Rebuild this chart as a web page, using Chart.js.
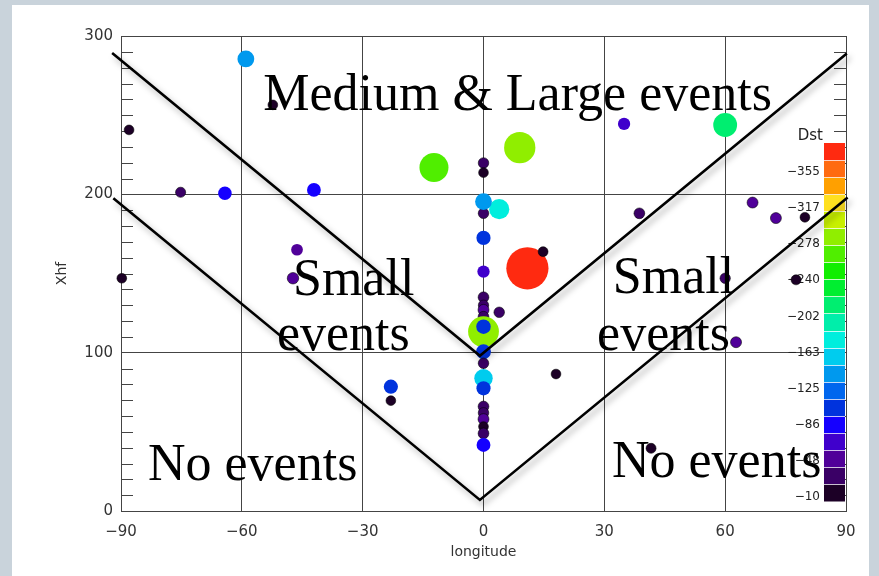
<!DOCTYPE html>
<html lang="en">
<head>
<meta charset="utf-8">
<title>Xhf vs longitude</title>
<script src="https://cdn.jsdelivr.net/npm/chart.js@4.4.1/dist/chart.umd.min.js"></script>
<style>
  html, body { margin:0; padding:0; background:#c9d3db; }
  #panel { position:absolute; left:12px; top:5px; width:857px; height:571px; background:#fff; }
  #wrap { position:absolute; left:0; top:0; width:879px; height:576px; }
</style>
</head>
<body>
<div id="panel"></div>
<div id="wrap"><canvas id="graph" width="879" height="576"></canvas></div>
<script>
// events: longitude, Xhf, Dst
var lon_ = [-59, -88, -52.3, -75.2, -64.2, -42.1, -46.3, -47.3, -89.8, -23, -23,
            -12.3, 9, 60, 34.9, 3.9, 10.9, 14.8, 38.7, 66.8, 72.6, 79.8, 60, 77.6, 62.7, 18, 3.9, 41.6,
            0, 0, 0, 0, 0, 0, 0, 0, 0, 0, 0, 0, 0, 0, 0, 0, 0, 0, 0, 0, 0, 0];
var xhf_ = [285.5, 240.7, 256.5, 201.3, 200.7, 202.8, 165, 147, 147, 78.5, 69.7,
            216.9, 229.5, 243.8, 244.5, 190.6, 153.3, 163.8, 188, 194.8, 185, 185.5, 147, 146, 106.6, 86.5, 125.5, 39.6,
            219.8, 213.7, 188, 195.4, 172.5, 151.2, 135, 130, 127, 122.7, 113.3, 116.4, 100.6, 93.3, 83.8, 77.5, 66, 62, 58, 53.3, 49, 41.7];
var dst_ = [-135, -12, -10, -25, -90, -95, -60, -55, -10, -100, -10,
            -262, -282, -213, -70, -175, -375, -15, -40, -45, -45, -12, -30, -20, -45, -10, -35, -20,
            -35, -10, -35, -135, -100, -70, -40, -30, -45, -40, -278, -105, -110, -35, -155, -100, -40, -35, -45, -12, -40, -95];

// region boundaries
var upperLon = [-92.2, -0.9, 90.2];
var upperXhf = [289.3, 98, 289];
var lowerLon = [-91.9, -0.9, 90.4];
var lowerXhf = [197.5, 7, 198];

var xTicks = [-90, -60, -30, 0, 30, 60, 90];
var yTicks = [0, 100, 200, 300];
var dstLabels = ["\u2212355", "\u2212317", "\u2212278", "\u2212240", "\u2212202", "\u2212163", "\u2212125", "\u221286", "\u221248", "\u221210"];

// colour table, bottom (weak) to top (strong)
var dstColors = ['#1c0026','#3a0066','#500099','#4000cc','#1500ff','#0033dd','#0066ee','#0099ee','#00ccee','#00eedd',
                 '#00eeaa','#00ee70','#00ee30','#10ee00','#50ee00','#90ee00','#c8f000','#ffe020','#ffa000','#ff6a10','#ff2a10'];
var dstTop = -386, dstBottom = -6;

function colorFor(d) {
  var i = Math.floor((d - dstBottom) / (dstTop - dstBottom) * dstColors.length);
  i = Math.max(0, Math.min(dstColors.length - 1, i));
  return dstColors[i];
}
function radiusFor(d) {
  return 4.8 + 16.3 * Math.pow(Math.min(1, Math.abs(d) / 370), 1.5);
}

var notes = [
  {text: "Medium & Large events", x: -54.7, y: 253.3},
  {text: "Small", x: -47.3, y: 136.4},
  {text: "events", x: -51.3, y: 101.7},
  {text: "No events", x: -83.3, y: 19.6},
  {text: "Small", x: 32.1, y: 137.7},
  {text: "events", x: 28.2, y: 101.7},
  {text: "No events", x: 31.9, y: 21.5}
];

var points = lon_.map(function(v, i){ return {x: v, y: xhf_[i]}; });
function linePts(xs, ys){ return xs.map(function(v, i){ return {x: v, y: ys[i]}; }); }

var frame = {
  id: 'frame',
  beforeDatasetsDraw: function(chart) {
    var ctx = chart.ctx, a = chart.chartArea, ys = chart.scales.y;
    ctx.save();
    // minor ticks
    ctx.strokeStyle = '#444';
    ctx.lineWidth = 1;
    for (var v = 10; v < 300; v += 10) {
      if (v % 100 === 0) continue;
      var py = Math.round(ys.getPixelForValue(v)) + 0.5;
      ctx.beginPath();
      ctx.moveTo(a.left, py); ctx.lineTo(a.left + 12, py);
      ctx.moveTo(a.right - 12, py); ctx.lineTo(a.right, py);
      ctx.stroke();
    }
    // Dst colour bar
    var barR = a.right - 1, barL = barR - 21, barT = a.top + 107, barB = a.top + 465;
    var h = (barB - barT) / dstColors.length;
    for (var i = 0; i < dstColors.length; i++) {
      ctx.fillStyle = dstColors[i];
      ctx.fillRect(barL, barB - (i + 1) * h, barR - barL, h + 0.5);
    }
    ctx.strokeStyle = 'rgba(255,255,255,0.75)';
    for (i = 1; i < dstColors.length; i++) {
      var yy = Math.round(barB - i * h) + 0.5;
      ctx.beginPath(); ctx.moveTo(barL, yy); ctx.lineTo(barR, yy); ctx.stroke();
    }
    ctx.fillStyle = '#222';
    ctx.font = '12px "DejaVu Sans"';
    ctx.textAlign = 'right';
    ctx.textBaseline = 'middle';
    var lt = a.top + 136, lb = a.top + 461;
    dstLabels.forEach(function(t, k){
      ctx.fillText(t, barL - 4, lt + k * (lb - lt) / (dstLabels.length - 1));
    });
    ctx.font = '15px "DejaVu Sans"';
    ctx.fillText('Dst', barL - 1, a.top + 100);
    ctx.restore();
  },
  beforeDatasetDraw: function(chart, args) {
    if (args.meta.type === 'line') {
      var ctx = chart.ctx;
      ctx.save();
      ctx.shadowColor = 'rgba(0,0,0,0.35)';
      ctx.shadowBlur = 6;
      ctx.shadowOffsetX = 3;
      ctx.shadowOffsetY = 4;
    }
  },
  afterDatasetDraw: function(chart, args) {
    if (args.meta.type === 'line') chart.ctx.restore();
  },
  afterDatasetsDraw: function(chart) {
    var ctx = chart.ctx, xs = chart.scales.x, ys = chart.scales.y;
    ctx.save();
    ctx.fillStyle = '#000';
    ctx.font = '52px "Liberation Serif"';
    ctx.textAlign = 'left';
    ctx.textBaseline = 'alphabetic';
    notes.forEach(function(n){
      ctx.fillText(n.text, xs.getPixelForValue(n.x), ys.getPixelForValue(n.y));
    });
    ctx.restore();
  }
};

var tickFont = {family: 'DejaVu Sans', size: 15};

new Chart(document.getElementById('graph').getContext('2d'), {
  type: 'scatter',
  data: {
    datasets: [
      {type: 'line', data: linePts(upperLon, upperXhf), borderColor: '#000', borderWidth: 2.6,
       pointRadius: 0, fill: false, clip: false, tension: 0},
      {type: 'line', data: linePts(lowerLon, lowerXhf), borderColor: '#000', borderWidth: 2.6,
       pointRadius: 0, fill: false, clip: false, tension: 0},
      {label: 'Dst', data: points,
       backgroundColor: function(c){ return colorFor(dst_[c.dataIndex]); },
       borderColor: function(c){ return Math.abs(dst_[c.dataIndex]) < 60 ? 'rgba(0,0,0,0.55)' : 'rgba(0,0,0,0)'; },
       borderWidth: 1,
       pointRadius: function(c){ return radiusFor(dst_[c.dataIndex]); },
       clip: false}
    ]
  },
  options: {
    responsive: false,
    animation: false,
    layout: {padding: {left: 0, right: 33, top: 36, bottom: 0}},
    plugins: {legend: {display: false}, tooltip: {enabled: false}},
    scales: {
      x: {
        type: 'linear', min: -90, max: 90,
        afterBuildTicks: function(s){ s.ticks = xTicks.map(function(v){ return {value: v}; }); },
        afterFit: function(s){ s.height = 65; },
        grid: {color: '#444', lineWidth: 1, drawTicks: false},
        border: {color: '#444'},
        ticks: {font: tickFont, color: '#333', padding: 12, maxRotation: 0,
                callback: function(v){ return v < 0 ? '\u2212' + (-v) : '' + v; }},
        title: {display: true, text: 'longitude', font: {family: 'DejaVu Sans', size: 14}, color: '#333',
                padding: {top: 0, bottom: 15}}
      },
      y: {
        type: 'linear', min: 0, max: 300,
        afterBuildTicks: function(s){ s.ticks = yTicks.map(function(v){ return {value: v}; }); },
        afterFit: function(s){ s.width = 121; },
        grid: {color: '#444', lineWidth: 1, drawTicks: false},
        border: {color: '#444'},
        ticks: {font: tickFont, color: '#333', padding: 8},
        title: {display: true, text: 'Xhf', font: {family: 'DejaVu Sans', size: 14}, color: '#333',
                padding: {top: 54, bottom: 0}}
      }
    }
  },
  plugins: [frame]
});
</script>
</body>
</html>
